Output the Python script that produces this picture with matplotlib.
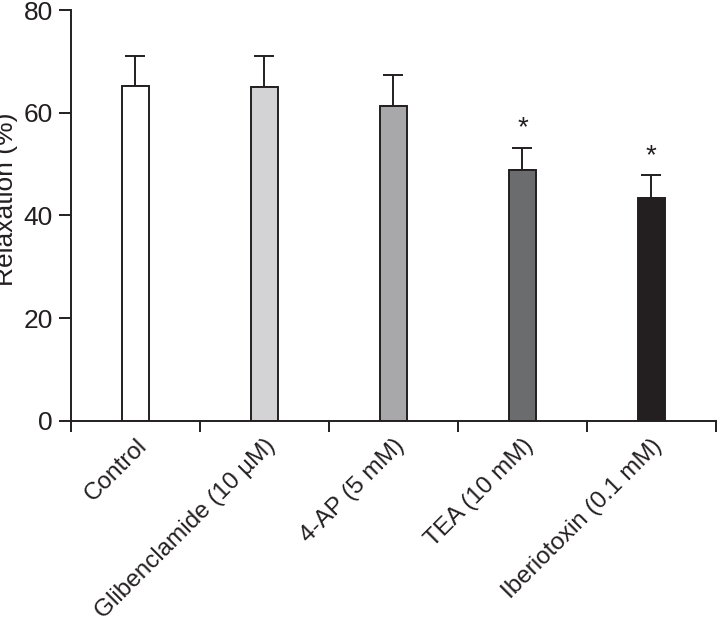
import matplotlib
matplotlib.use("Agg")
import matplotlib.pyplot as plt

plt.rcParams['font.family'] = ['Liberation Sans', 'DejaVu Sans']

# Data
groups = ["Control", "Glibenclamide (10 \u00b5M)", "4-AP (5 mM)", "TEA (10 mM)", "Iberiotoxin (0.1 mM)"]
relaxation = [65.2, 65.0, 61.4, 48.8, 43.5]
sem = [5.9, 6.0, 6.0, 4.4, 4.3]
significant = [False, False, False, True, True]
colors = ["#ffffff", "#d3d3d5", "#a8a8ab", "#6b6c6e", "#231f20"]

fig = plt.figure(figsize=(7.18, 6.22), dpi=100)
ax = fig.add_axes([0.0989, 0.3232, 0.8981, 0.6607])

x = list(range(len(groups)))
ax.bar(x, relaxation, width=0.21, color=colors, edgecolor="#231f20", linewidth=1.4, zorder=2)
ax.errorbar(x, relaxation, yerr=[[0] * len(sem), sem], fmt="none", ecolor="#231f20",
            elinewidth=1.4, capsize=7, capthick=1.4, zorder=1)

for xi, v, s, sig in zip(x, relaxation, sem, significant):
    if sig:
        ax.text(xi, v + s + 1.2, "*", ha="center", va="bottom", fontsize=20, color="#231f20")

ax.set_xlim(-0.5, 4.5)
ax.set_ylim(0, 80)
ax.set_yticks([0, 20, 40, 60, 80])
ax.set_xticks([i - 0.5 for i in range(len(groups) + 1)])
ax.set_xticklabels([])
ax.set_xticks(x, minor=True)
ax.set_xticklabels(groups, minor=True, rotation=45, ha="right", rotation_mode="anchor", fontsize=17.5)
ax.tick_params(axis="x", which="minor", length=0, pad=10)
ax.tick_params(axis="x", which="major", length=8, width=1.4, direction="out", color="#231f20")
ax.tick_params(axis="y", length=9, width=1.4, direction="out", labelsize=19, pad=4, color="#231f20")

for lbl in ax.get_xticklabels(minor=True):
    lbl.set_color("#231f20")
for lbl in ax.get_yticklabels():
    lbl.set_color("#231f20")

ax.spines["top"].set_visible(False)
ax.spines["right"].set_visible(False)
ax.spines["left"].set_linewidth(1.4)
ax.spines["bottom"].set_linewidth(1.4)
ax.spines["left"].set_color("#231f20")
ax.spines["bottom"].set_color("#231f20")

ax.set_ylabel("Relaxation (%)", fontsize=19, color="#231f20")
ax.yaxis.set_label_coords(-0.082, 0.54)

fig.savefig("out.png", dpi=100)
